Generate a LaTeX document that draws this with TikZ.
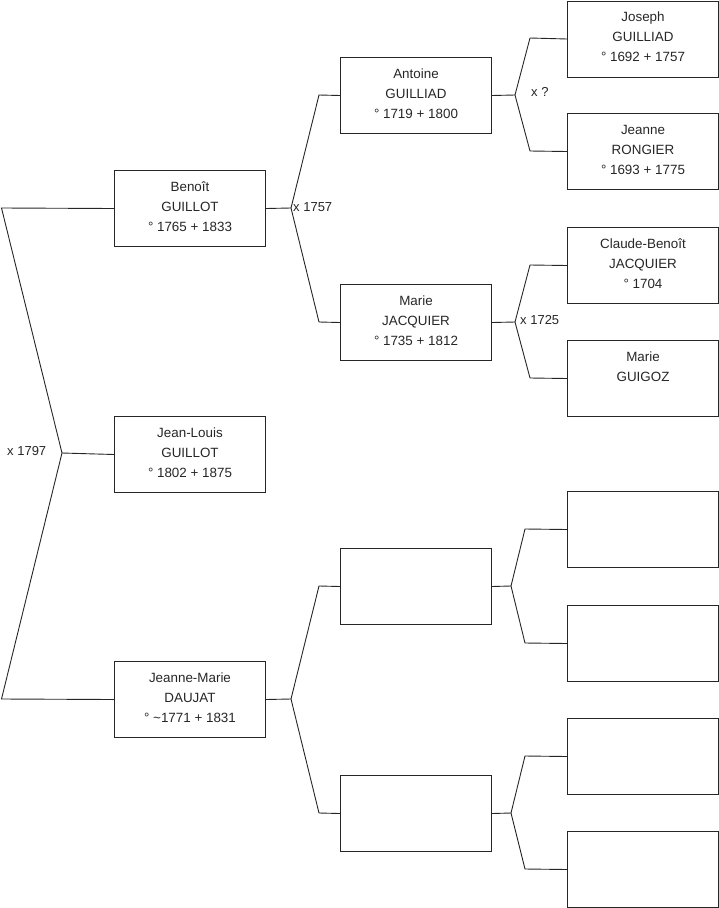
\documentclass[tikz,border=0pt]{standalone}
\usepackage{fontspec}
\setmainfont{Liberation Sans}
\begin{document}
\begin{tikzpicture}[x=1pt,y=-1pt,
  pbox/.style={draw=black!85,line width=1pt,minimum width=151pt,minimum height=76pt,inner sep=0pt,anchor=north west},
  ptext/.style={anchor=north,align=center,inner sep=0pt,font=\fontsize{13.4}{20}\selectfont,text=black!85},
  mlabel/.style={anchor=west,inner sep=0pt,font=\fontsize{13}{15}\selectfont,text=black!85},
  link/.style={draw=black!85,line width=0.9pt}]
\useasboundingbox (0,0) rectangle (719,908);
% level 1
\node[pbox] (b1) at (114,170) {};
\node[pbox] (jl) at (114,416) {};
\node[pbox] (jm) at (114,661) {};
% level 2
\node[pbox] (an) at (340,57) {};
\node[pbox] (mj) at (340,284) {};
\node[pbox] (e1) at (340,548) {};
\node[pbox] (e2) at (340,775) {};
% level 3
\node[pbox] (jo) at (567,0.5) {};
\node[pbox] (jr) at (567,113) {};
\node[pbox] (cb) at (567,227) {};
\node[pbox] (mg) at (567,340) {};
\node[pbox] (f1) at (567,491) {};
\node[pbox] (f2) at (567,605) {};
\node[pbox] (f3) at (567,718) {};
\node[pbox] (f4) at (567,831) {};
% texts
\node[ptext] (tb1) at ([yshift=-12pt]b1.north) {Benoît\\GUILLOT\\° 1765 + 1833};
\node[ptext] (tjl) at ([yshift=-12pt]jl.north) {Jean-Louis\\GUILLOT\\° 1802 + 1875};
\node[ptext] (tjm) at ([yshift=-12pt]jm.north) {Jeanne-Marie\\DAUJAT\\° \textasciitilde1771 + 1831};
\node[ptext] (tan) at ([yshift=-12pt]an.north) {Antoine\\GUILLIAD\\° 1719 + 1800};
\node[ptext] (tmj) at ([yshift=-12pt]mj.north) {Marie\\JACQUIER\\° 1735 + 1812};
\node[ptext] (tjo) at ([yshift=-11.5pt]jo.north) {Joseph\\GUILLIAD\\° 1692 + 1757};
\node[ptext] (tjr) at ([yshift=-12pt]jr.north) {Jeanne\\RONGIER\\° 1693 + 1775};
\node[ptext] (tcb) at ([yshift=-12pt]cb.north) {Claude-Benoît\\JACQUIER\\° 1704};
\node[ptext] (tmg) at ([yshift=-12pt]mg.north) {Marie\\GUIGOZ};
% connector coordinates
\coordinate (l1) at (1.5,208);
\coordinate (l2) at (1.5,699);
\coordinate (v0) at (62,453);
\coordinate (v1) at (291,208);
\coordinate (v1a) at (319,95);
\coordinate (v1b) at (319,322);
\coordinate (v2) at (291,699);
\coordinate (v2a) at (319,586);
\coordinate (v2b) at (319,813);
\coordinate (v3) at (515,95);
\coordinate (v3a) at (530,38);
\coordinate (v3b) at (530,151);
\coordinate (v4) at (515,322);
\coordinate (v4a) at (530,265);
\coordinate (v4b) at (530,378);
\coordinate (v5) at (511,586);
\coordinate (v5a) at (525,529);
\coordinate (v5b) at (525,643);
\coordinate (v6) at (511,813);
\coordinate (v6a) at (525,756);
\coordinate (v6b) at (525,869);
% connectors
\draw[link] (b1.west) -- (l1) -- (v0) -- (jl.west);
\draw[link] (jm.west) -- (l2) -- (v0);
\draw[link] (b1.east) -- (v1) -- (v1a) -- (an.west);
\draw[link] (v1) -- (v1b) -- (mj.west);
\draw[link] (jm.east) -- (v2) -- (v2a) -- (e1.west);
\draw[link] (v2) -- (v2b) -- (e2.west);
\draw[link] (an.east) -- (v3) -- (v3a) -- (jo.west);
\draw[link] (v3) -- (v3b) -- (jr.west);
\draw[link] (mj.east) -- (v4) -- (v4a) -- (cb.west);
\draw[link] (v4) -- (v4b) -- (mg.west);
\draw[link] (e1.east) -- (v5) -- (v5a) -- (f1.west);
\draw[link] (v5) -- (v5b) -- (f2.west);
\draw[link] (e2.east) -- (v6) -- (v6a) -- (f3.west);
\draw[link] (v6) -- (v6b) -- (f4.west);
% marriage labels
\node[mlabel] (m0) at (7,451) {x 1797};
\node[mlabel] (m1) at (293,207) {x 1757};
\node[mlabel] (m2) at (531,92) {x ?};
\node[mlabel] (m3) at (520,320) {x 1725};
\end{tikzpicture}
\end{document}
